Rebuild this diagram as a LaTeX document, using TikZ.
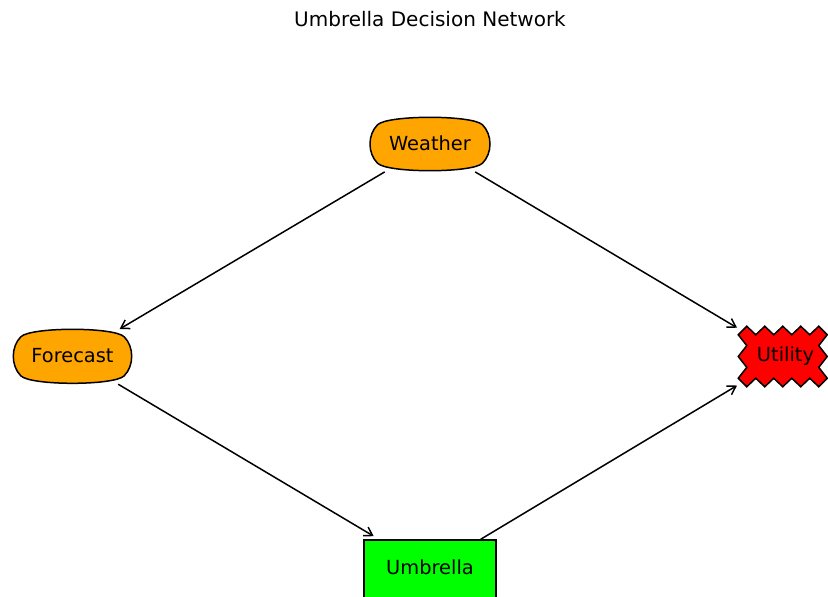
\documentclass[tikz,border=0pt]{standalone}
\usepackage{fontspec}
\setmainfont{DejaVu Sans}
\usetikzlibrary{arrows.meta}
\definecolor{wxorange}{HTML}{FFA500}
\definecolor{umgreen}{HTML}{00FF00}
\definecolor{utred}{HTML}{FF0000}
% round4-like box: #1 centre, #2 half width, #3 half height, #4 rounding, #5 fill
\newcommand\roundfourbox[5]{%
  \pgfmathsetmacro\rfCx{#2-0.75*#4}%
  \pgfmathsetmacro\rfCy{#3-0.75*#4}%
  \pgfmathsetmacro\rfPx{#2+0.25*#4}%
  \pgfmathsetmacro\rfPy{#3+0.25*#4}%
  \pgfmathsetmacro\rfQx{\rfCx-#4}%
  \pgfmathsetmacro\rfQy{\rfCy-#4}%
  \begin{scope}[shift={#1}]
    \filldraw[boxline, fill=#5]
      (-\rfCx,-\rfCy) .. controls (-\rfQx,-\rfPy) and (\rfQx,-\rfPy) .. (\rfCx,-\rfCy)
      .. controls (\rfPx,-\rfQy) and (\rfPx,\rfQy) .. (\rfCx,\rfCy)
      .. controls (\rfQx,\rfPy) and (-\rfQx,\rfPy) .. (-\rfCx,\rfCy)
      .. controls (-\rfPx,\rfQy) and (-\rfPx,-\rfQy) .. (-\rfCx,-\rfCy) -- cycle;
  \end{scope}}
\begin{document}
\begin{tikzpicture}[x=1pt,y=-1pt,
  lbl/.style={font=\fontsize{19.4}{23}\selectfont, text height=14.55pt, text depth=3.96pt, inner sep=0pt},
  boxline/.style={draw=black, line width=1.5pt, line join=miter},
  edge/.style={draw=black, line width=1.5pt, -{Straight Barb[length=8pt,width=10pt]}, shorten >=1.5pt}]
\useasboundingbox (0,0) rectangle (828,597);
\clip (0,0) rectangle (828,597);

\node[font=\fontsize{20}{24}\selectfont, anchor=base, inner sep=0pt] (title) at (430,26.7) {Umbrella Decision Network};

% Weather
\roundfourbox{(430,144)}{60}{26.7}{10}{wxorange}
\node[lbl, minimum width=120pt, minimum height=53.4pt] (weather) at (430,145) {Weather};

% Forecast
\roundfourbox{(72.5,356.3)}{59.2}{27}{10}{wxorange}
\node[lbl, minimum width=118.4pt, minimum height=54pt] (forecast) at (72.5,357) {Forecast};

% Umbrella
\node[lbl, boxline, fill=umgreen, minimum width=132pt, minimum height=59.4pt] (umbrella) at (430,569.7) {Umbrella};

% Utility (sawtooth)
\filldraw[boxline, fill=utred]
  (742.5,330.5) -- (746.75,326.25) -- (755.75,334.75) -- (764.75,326.25) -- (773.75,334.75)
  -- (782.75,326.25) -- (791.75,334.75) -- (800.75,326.25) -- (809.75,334.75) -- (818.75,326.25)
  -- (823,330.5) -- (827.25,334.75) -- (818.75,345.625) -- (827.25,356.5) -- (818.75,367.375)
  -- (827.25,378.25) -- (823,382.5) -- (818.75,386.75) -- (809.75,378.25) -- (800.75,386.75)
  -- (791.75,378.25) -- (782.75,386.75) -- (773.75,378.25) -- (764.75,386.75) -- (755.75,378.25)
  -- (746.75,386.75) -- (742.5,382.5) -- (738.25,378.25) -- (746.75,367.375) -- (738.25,356.5)
  -- (746.75,345.625) -- (738.25,334.75) -- cycle;
\node[lbl, minimum width=94pt, minimum height=60pt] (utility) at (785.5,356.5) {Utility};

% Edges
\draw[edge] (weather) -- (forecast);
\draw[edge] (weather) -- (utility);
\draw[edge, shorten >=6pt] (forecast) -- (umbrella);
\draw[edge] (umbrella) -- (utility);
\end{tikzpicture}
\end{document}
